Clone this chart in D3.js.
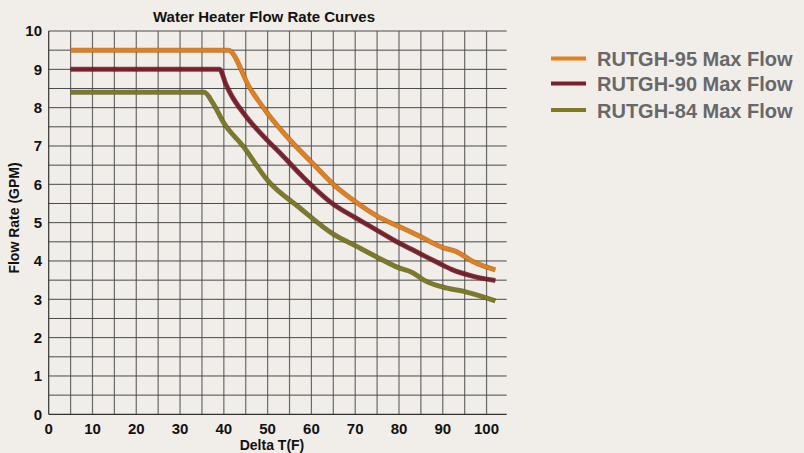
<!DOCTYPE html>
<html>
<head>
<meta charset="utf-8">
<script src="https://cdn.jsdelivr.net/npm/d3@7"></script>
<style>
  html, body { margin: 0; padding: 0; background: #f1eee9; }
  svg { display: block; }
</style>
</head>
<body>
<svg id="chart"></svg>
<script>
// Series data (Delta T in F, flow in GPM)
const rutgh95 = [[5, 9.5], [41, 9.5], [46, 8.5], [50, 7.85], [55, 7.17], [60, 6.58], [65, 6.0], [70, 5.55],
  [75, 5.17], [80, 4.9], [85, 4.63], [90, 4.35], [93, 4.25], [97, 3.98], [102, 3.77]];
const rutgh90 = [[5, 9.0], [39, 9.0], [40.5, 8.6], [41.5, 8.37], [45, 7.78], [50, 7.14], [53, 6.8], [58, 6.2],
  [65, 5.48], [70, 5.13], [75, 4.8], [80, 4.47], [83, 4.3], [86, 4.12], [89, 3.95], [92, 3.78], [97, 3.6], [102, 3.49]];
const rutgh84 = [[5, 8.4], [35.5, 8.4], [37.5, 8.12], [40, 7.6], [44.5, 6.98], [50, 6.1], [57.5, 5.37], [65, 4.7],
  [70, 4.4], [75, 4.1], [80, 3.82], [83, 3.7], [86, 3.48], [91, 3.29], [95, 3.2], [102, 2.96]];

const seriesNames = ["RUTGH-95 Max Flow", "RUTGH-90 Max Flow", "RUTGH-84 Max Flow"];
const seriesColors = ["#e3801c", "#7c1f2c", "#7d7a22"];
const seriesEdges = ["#a85a10", "#4e1019", "#51501a"];

const xTicks = [0, 10, 20, 30, 40, 50, 60, 70, 80, 90, 100];
const yTicks = [0, 1, 2, 3, 4, 5, 6, 7, 8, 9, 10];

const width = 804, height = 453;
const svg = d3.select("#chart").attr("width", width).attr("height", height);

// scales: 0..104.6 across the plot box
const x = d3.scaleLinear().domain([0, 104.6]).range([48.7, 506.7]);
const y = d3.scaleLinear().domain([0, 10]).range([414.3, 31]);

// grid
const grid = svg.append("g");
grid.selectAll("line.v")
  .data(d3.range(5, 101, 5))
  .enter().append("line")
  .attr("x1", d => x(d)).attr("x2", d => x(d))
  .attr("y1", y(0)).attr("y2", y(10))
  .attr("stroke", "#6a6a6a").attr("stroke-width", 1.2);
grid.selectAll("line.h")
  .data(d3.range(0.5, 10.01, 0.5))
  .enter().append("line")
  .attr("x1", x(0)).attr("x2", x(104.6))
  .attr("y1", d => y(d)).attr("y2", d => y(d))
  .attr("stroke", "#4a4a4a").attr("stroke-width", 1);

// axis lines
svg.append("line").attr("x1", x(0)).attr("x2", x(0)).attr("y1", y(0)).attr("y2", y(10))
  .attr("stroke", "#333").attr("stroke-width", 1.2);
svg.append("line").attr("x1", x(0)).attr("x2", x(104.6)).attr("y1", y(0)).attr("y2", y(0))
  .attr("stroke", "#333").attr("stroke-width", 1.2);

// tick labels
svg.append("g").selectAll("text")
  .data(yTicks).enter().append("text")
  .attr("x", 42).attr("y", d => y(d))
  .attr("dy", "0.36em")
  .attr("text-anchor", "end")
  .attr("font-family", "Liberation Sans, Arial, sans-serif")
  .attr("font-weight", "bold").attr("font-size", 15)
  .attr("fill", "#111")
  .text(d => d);

svg.append("g").selectAll("text")
  .data(xTicks).enter().append("text")
  .attr("x", d => x(d)).attr("y", 433.5)
  .attr("text-anchor", "middle")
  .attr("font-family", "Liberation Sans, Arial, sans-serif")
  .attr("font-weight", "bold").attr("font-size", 15)
  .attr("fill", "#111")
  .text(d => d);

// titles
svg.append("text")
  .attr("x", 264).attr("y", 21.5)
  .attr("text-anchor", "middle")
  .attr("font-family", "Liberation Sans, Arial, sans-serif")
  .attr("font-weight", "bold").attr("font-size", 15)
  .attr("fill", "#111")
  .text("Water Heater Flow Rate Curves");

svg.append("text")
  .attr("x", 272).attr("y", 450)
  .attr("text-anchor", "middle")
  .attr("font-family", "Liberation Sans, Arial, sans-serif")
  .attr("font-weight", "bold").attr("font-size", 14)
  .attr("fill", "#111")
  .text("Delta T(F)");

svg.append("text")
  .attr("transform", "translate(19,218) rotate(-90)")
  .attr("text-anchor", "middle")
  .attr("font-family", "Liberation Sans, Arial, sans-serif")
  .attr("font-weight", "bold").attr("font-size", 14)
  .attr("fill", "#111")
  .text("Flow Rate (GPM)");

// curves
const line = d3.line().x(d => x(d[0])).y(d => y(d[1])).curve(d3.curveMonotoneX);
const allSeries = [rutgh95, rutgh90, rutgh84];
const curves = svg.append("g");
allSeries.forEach((s, i) => {
  curves.append("path").datum(s)
    .attr("d", line).attr("fill", "none")
    .attr("stroke", seriesEdges[i]).attr("stroke-width", 5)
    .attr("stroke-linejoin", "round").attr("opacity", 0.75);
  curves.append("path").datum(s)
    .attr("d", line).attr("fill", "none")
    .attr("stroke", seriesColors[i]).attr("stroke-width", 3.2)
    .attr("stroke-linejoin", "round");
});

// legend
const legendY = [58.5, 83.5, 110];
const legend = svg.append("g");
seriesNames.forEach((name, i) => {
  legend.append("line")
    .attr("x1", 551).attr("x2", 586)
    .attr("y1", legendY[i]).attr("y2", legendY[i])
    .attr("stroke", seriesColors[i]).attr("stroke-width", 4);
  legend.append("text")
    .attr("x", 597).attr("y", legendY[i] + 7.5)
    .attr("font-family", "Liberation Sans, Arial, sans-serif")
    .attr("font-weight", "bold").attr("font-size", 20)
    .attr("fill", "#68686a")
    .text(name);
});
</script>
</body>
</html>
